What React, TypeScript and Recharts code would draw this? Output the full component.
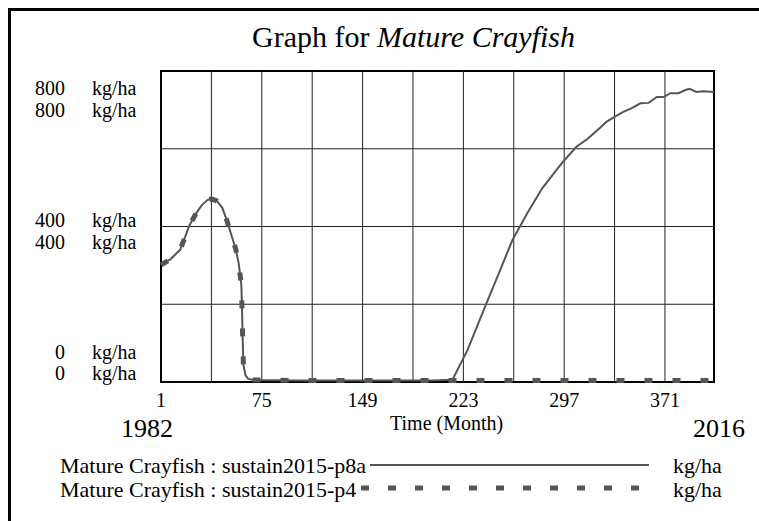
import { LineChart, Line, XAxis, YAxis, ReferenceLine, ReferenceArea } from "recharts";

// months sampled along the run (1982 = month 1)
const months = [
  1, 8, 15, 19, 22, 27, 31, 35, 38, 42, 46, 49, 52, 56, 58, 60, 60.5, 61, 61.5, 63, 65, 70,
  100, 150, 200, 215, 226, 240, 250, 259, 270, 281, 296, 306, 314, 323, 328, 334, 340, 347,
  353, 359, 365, 370, 375, 381, 386, 389, 394, 399, 407,
];

const p8a = [
  301, 316, 340, 376, 404, 435, 455, 468, 471, 466, 448, 419, 386, 340, 306, 250, 185, 108, 44, 18, 8, 5,
  4, 4, 4, 6, 82, 203, 288, 365, 435, 499, 566, 605, 625, 653, 669, 682, 694, 705,
  717, 718, 733, 733, 743, 743, 751, 754, 746, 748, 746,
];

const p4 = [
  301, 316, 340, 376, 404, 435, 455, 468, 471, 466, 448, 419, 386, 340, 306, 250, 185, 108, 44, 18, 8, 5,
  4, 4, 4, 4, 4, 4, 4, 4, 4, 4, 4, 4, 4, 4, 4, 4, 4, 4,
  4, 4, 4, 4, 4, 4, 4, 4, 4, 4, 4,
];

const xTicks = [1, 75, 149, 223, 297, 371];
const xGrid = [38, 75, 112, 149, 186, 223, 260, 297, 334, 371];
const yGrid = [200, 400, 600];

const yLabels = [
  { text: "800", base: 94 },
  { text: "800", base: 116 },
  { text: "400", base: 226 },
  { text: "400", base: 248 },
  { text: "0", base: 358 },
  { text: "0", base: 379 },
];

const legendItems = [
  { label: "Mature Crayfish : sustain2015-p8a", dash: undefined, width: 2, base: 473, lineY: 465, x1: 370, x2: 649 },
  { label: "Mature Crayfish : sustain2015-p4", dash: "8 19", width: 5, base: 497, lineY: 488, x1: 361, x2: 645 },
];

const data = months.map((m, i) => ({ month: m, p8a: p8a[i], p4: p4[i] }));

const serif = '"Liberation Serif", "Times New Roman", "DejaVu Serif", serif';
const lineColor = "#555";
const gridColor = "#222";

const abs = (left: number, top: number, extra: React.CSSProperties = {}): React.CSSProperties => ({
  position: "absolute",
  left,
  top,
  whiteSpace: "nowrap",
  lineHeight: 1,
  fontFamily: serif,
  ...extra,
});

export default function App() {
  return (
    <div
      style={{
        position: "absolute",
        left: 0,
        top: 0,
        width: 759,
        height: 521,
        overflow: "hidden",
        background: "#fff",
        fontFamily: serif,
        color: "#000",
      }}
    >
      <div
        style={{
          position: "absolute",
          left: 8,
          top: 8,
          width: 800,
          height: 600,
          borderTop: "3px solid #000",
          borderLeft: "3px solid #000",
        }}
      />

      <LineChart
        width={759}
        height={521}
        data={data}
        margin={{ top: 71, right: 45, left: 161, bottom: 109 }}
        style={{ position: "absolute", left: 0, top: 0 }}
      >
        <XAxis
          dataKey="month"
          type="number"
          domain={[1, 407]}
          ticks={xTicks}
          height={30}
          tickLine={false}
          axisLine={false}
          tickSize={0}
          tickMargin={11}
          tick={{ fontSize: 20, fill: "#000", fontFamily: serif }}
        />
        <YAxis hide domain={[0, 800]} type="number" />
        {xGrid.map((x) => (
          <ReferenceLine key={"x" + x} x={x} stroke={gridColor} strokeWidth={1} />
        ))}
        {yGrid.map((y) => (
          <ReferenceLine key={"y" + y} y={y} stroke={gridColor} strokeWidth={1} />
        ))}
        <ReferenceArea x1={1} x2={407} y1={0} y2={800} fill="none" stroke="#000" strokeWidth={2} />
        <Line
          dataKey="p8a"
          type="linear"
          stroke={lineColor}
          strokeWidth={2}
          dot={false}
          isAnimationActive={false}
        />
        <Line
          dataKey="p4"
          type="linear"
          stroke={lineColor}
          strokeWidth={5}
          strokeDasharray="8 20"
          dot={false}
          isAnimationActive={false}
        />
      </LineChart>

      <div style={abs(252, 22, { fontSize: 30 })}>
        Graph for <i style={{ fontFamily: serif, fontStyle: "italic" }}>Mature Crayfish</i>
      </div>

      {yLabels.map((l, i) => (
        <div key={i}>
          <div style={abs(0, l.base - 16, { width: 65, textAlign: "right", fontSize: 20 })}>{l.text}</div>
          <div style={abs(92, l.base - 16, { fontSize: 20 })}>kg/ha</div>
        </div>
      ))}

      <div style={abs(390, 413, { fontSize: 20, width: 104, textAlign: "center" })}>Time (Month)</div>
      <div style={abs(121, 416, { fontSize: 26 })}>1982</div>
      <div style={abs(693, 416, { fontSize: 26 })}>2016</div>

      {legendItems.map((it) => (
        <div key={it.label}>
          <div style={abs(60, it.base - 18, { fontSize: 22 })}>{it.label}</div>
          <div style={abs(673, it.base - 18, { fontSize: 22 })}>kg/ha</div>
        </div>
      ))}
      <svg width={759} height={521} style={{ position: "absolute", left: 0, top: 0 }}>
        {legendItems.map((it) => (
          <line
            key={it.label}
            x1={it.x1}
            x2={it.x2}
            y1={it.lineY}
            y2={it.lineY}
            stroke={lineColor}
            strokeWidth={it.width}
            strokeDasharray={it.dash}
          />
        ))}
      </svg>
    </div>
  );
}
